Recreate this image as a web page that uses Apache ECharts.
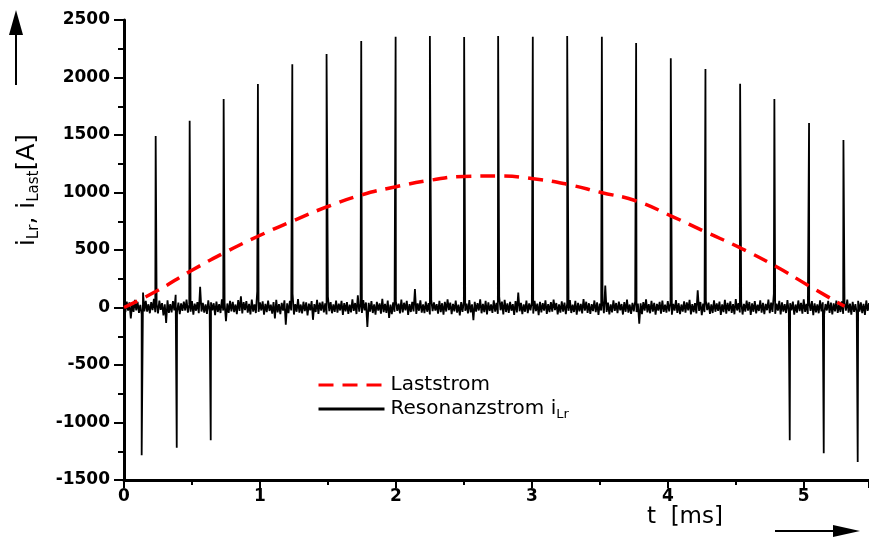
<!DOCTYPE html>
<html><head><meta charset="utf-8">
<script src="https://cdn.jsdelivr.net/npm/echarts@6/dist/echarts.min.js"></script>
<style>html,body{margin:0;padding:0;background:#fff}#c{width:869px;height:544px}</style>
</head><body><div id="c"></div>
<script>
// Laststrom (red dashed)
const lastTime  = [0, 0.24, 0.49, 0.74, 0.99, 1.24, 1.49, 1.75, 2.0, 2.25, 2.5, 2.76, 3.01, 3.26, 3.51, 3.77, 4.03, 4.28, 4.53, 4.79, 5.04, 5.3];
const lastValue = [0, 143, 317, 477, 622, 752, 874, 980, 1050, 1106, 1140, 1143, 1120, 1071, 1000, 926, 793, 656, 520, 361, 187, 10];
// Resonanzstrom: positive spikes
const spikeTime = [0.233, 0.483, 0.733, 0.985, 1.238, 1.490, 1.745, 1.998, 2.250, 2.502, 2.752, 3.007, 3.260, 3.515, 3.767, 4.022, 4.277, 4.532, 4.784, 5.039, 5.292];
const spikePeak = [1491, 1624, 1813, 1943, 2115, 2204, 2317, 2355, 2360, 2352, 2360, 2355, 2360, 2355, 2300, 2167, 2074, 1946, 1813, 1604, 1457];
// Resonanzstrom: negative spikes
const dipTime = [0.130, 0.388, 0.638, 4.897, 5.147, 5.397];
const dipPeak = [-1285, -1219, -1155, -1155, -1268, -1343];
// Resonanzstrom: noise around zero, sampled every noiseStep ms
const noiseStep = 0.01;
const noiseValue = [
35,-40,52,-28,44,-95,30,-38,66,-25,48,-46,22,-60,130,-33,58,-36,28,-50,
47,-22,75,-41,33,-52,60,-20,38,-68,27,-134,62,-47,30,-42,55,-24,110,-40,
42,-58,36,-30,50,-26,68,-45,25,-37,56,-62,34,-28,46,-50,180,-35,40,-44,
28,-55,63,-31,45,-24,37,-66,52,-39,30,-48,72,-27,43,-120,35,-46,58,-33,
49,-41,26,-57,64,-29,98,-52,47,-23,55,-44,31,-60,69,-36,27,-48,140,-38,
44,-26,53,-63,32,-40,59,-30,24,-54,48,-95,66,-42,29,-58,41,-27,62,-150,
36,-49,57,-25,120,-61,30,-37,73,-44,26,-52,50,-32,45,-68,34,-24,55,-107,
29,-39,67,-56,42,-28,51,-43,35,-60,95,-31,46,-50,27,-38,61,-45,33,-26,
58,-64,38,-33,47,-55,25,-42,70,-29,39,-57,105,-36,31,-47,64,-25,44,-170,
40,-35,56,-48,28,-62,49,-27,36,-53,75,-40,32,-46,60,-90,26,-58,45,-37,
54,-29,33,-51,68,-43,41,-24,57,-65,30,-39,48,-34,160,-56,35,-28,62,-45,
27,-48,52,-37,39,-60,66,-31,44,-26,29,-54,58,-41,37,-63,50,-35,71,-22,
43,-57,31,-33,60,-45,25,-68,46,-38,55,-29,34,-52,64,-42,28,-110,49,-36,
38,-26,70,-50,32,-41,57,-59,45,-30,26,-47,63,-35,40,-55,90,-24,52,-61,
66,-39,35,-46,48,-28,29,-64,56,-43,130,-33,41,-58,27,-37,60,-49,36,-25,
45,-53,58,-31,33,-67,50,-42,38,-27,62,-56,30,-40,47,-35,69,-23,39,-60,
28,-44,54,-36,43,-58,35,-29,65,-48,25,-39,57,-62,40,-34,31,-51,73,-27,
50,-46,37,-55,29,-32,61,-41,44,-65,33,-26,56,-50,190,-38,42,-59,27,-43,
63,-30,39,-48,52,-24,30,-61,46,-37,68,-45,26,-56,41,-33,55,-40,34,-140,
36,-57,47,-28,71,-42,29,-50,58,-35,40,-63,32,-26,49,-54,60,-38,25,-45,
55,-33,42,-62,31,-27,64,-47,37,-58,26,-36,53,-44,45,-25,67,-60,30,-41,
39,-52,150,-30,48,-66,34,-39,57,-23,43,-55,28,-48,62,-37,35,-29,51,-64,
27,-40,66,-53,41,-31,53,-46,30,-59,74,-26,38,-43,46,-61,32,-35,59,-28,
48,-65,35,-37,56,-51,25,-30,62,-44,40,-57,31,-24,69,-49,43,-38,120,-55,
33,-27,58,-60,44,-36,29,-48,65,-41,37,-25,52,-63,26,-45,61,-32,40,-53,
70,-38,31,-56,47,-29,55,-67,35,-42,28,-50,63,-34,45,-58,30,-26,57,-46,
42,-61,36,-33,60,-47,27,-39,53,-55,41,-28,68,-44,34,-62,49,-37,29,-52,
58,-35,45,-49,32,-64,61,-30,38,-56,26,-43,54,-27,47,-60,35,-41,66,-32
];
// axis settings
const xMin = 0, xMax = 5.48, xStep = 1;
const yMin = -1500, yMax = 2500, yStep = 500;

const FONT = 'DejaVu Sans';
const lastData = lastTime.map((t, i) => [t, lastValue[i]]);
const resData = noiseValue.map((v, i) => [+(i * noiseStep).toFixed(3), v]);
spikeTime.forEach((t, i) => resData.push([t, spikePeak[i]]));
dipTime.forEach((t, i) => resData.push([t, dipPeak[i]]));
resData.sort((a, b) => a[0] - b[0]);

const chart = echarts.init(document.getElementById('c'), null, {renderer: 'canvas'});
chart.setOption({
  animation: false,
  backgroundColor: '#fff',
  grid: {left: 124, right: 0, top: 20, bottom: 64, containLabel: false},
  xAxis: {
    type: 'value', min: xMin, max: xMax, interval: xStep,
    axisLine: {onZero: false, lineStyle: {color: '#000', width: 3}},
    axisTick: {length: 8, lineStyle: {color: '#000', width: 2}},
    minorTick: {show: true, splitNumber: 2, length: 5, lineStyle: {color: '#000', width: 2}},
    splitLine: {show: false},
    axisLabel: {color: '#000', fontFamily: FONT, fontSize: 17, fontWeight: 'bold', margin: 8, formatter: v => String(v), showMaxLabel: false}
  },
  yAxis: {
    type: 'value', min: yMin, max: yMax, interval: yStep,
    axisLine: {show: true, onZero: false, lineStyle: {color: '#000', width: 3}},
    axisTick: {show: true, length: 10, lineStyle: {color: '#000', width: 2}},
    minorTick: {show: true, splitNumber: 2, length: 6, lineStyle: {color: '#000', width: 2}},
    splitLine: {show: false},
    axisLabel: {color: '#000', fontFamily: FONT, fontSize: 17, fontWeight: 'bold', margin: 14, formatter: v => String(v)}
  },
  legend: {
    orient: 'vertical', left: 312, top: 370, itemWidth: 66, itemHeight: 14, itemGap: 4,
    itemStyle: {opacity: 0},
    lineStyle: {width: 3},
    data: ['Laststrom', 'Resonanzstrom'],
    formatter: n => n === 'Laststrom' ? '{n|Laststrom}' : '{n|Resonanzstrom i}{s|Lr}',
    textStyle: {
      rich: {
        n: {fontFamily: FONT, fontSize: 20, color: '#000', lineHeight: 24, padding: [0, 0, 0, 1]},
        s: {fontFamily: FONT, fontSize: 13, color: '#000', lineHeight: 13, verticalAlign: 'bottom'}
      }
    }
  },
  series: [
    {name: 'Resonanzstrom', type: 'line', data: resData, symbol: 'none', showSymbol: false,
     lineStyle: {color: '#000', width: 1.8}, itemStyle: {color: '#000'}, z: 2},
    {name: 'Laststrom', type: 'line', data: lastData, symbol: 'none', showSymbol: false, smooth: true,
     lineStyle: {color: '#ff0000', width: 3.5, type: [15, 9]}, itemStyle: {color: '#ff0000'}, z: 3}
  ],
  graphic: [
    {type: 'text', x: 27, y: 190, rotation: Math.PI / 2,
     style: {text: '{n|i}{s|Lr}{n|, i}{s|Last}{n|[A]}', align: 'center', verticalAlign: 'middle',
       rich: {
         n: {fontFamily: FONT, fontSize: 25, fill: '#000', lineHeight: 30},
         s: {fontFamily: FONT, fontSize: 15, fill: '#000', lineHeight: 15, verticalAlign: 'bottom'}
       }}},
    {type: 'text', x: 647, y: 517,
     style: {text: 't  [ms]', fontFamily: FONT, fontSize: 23, fill: '#000', align: 'left', verticalAlign: 'middle'}},
    {type: 'line', shape: {x1: 16, y1: 85, x2: 16, y2: 32}, style: {stroke: '#000', lineWidth: 2}},
    {type: 'polygon', shape: {points: [[9, 35], [23, 35], [16, 10]]}, style: {fill: '#000'}},
    {type: 'line', shape: {x1: 775, y1: 531, x2: 836, y2: 531}, style: {stroke: '#000', lineWidth: 2}},
    {type: 'polygon', shape: {points: [[833, 525], [833, 537], [860, 531]]}, style: {fill: '#000'}}
  ]
});
</script>
</body></html>
